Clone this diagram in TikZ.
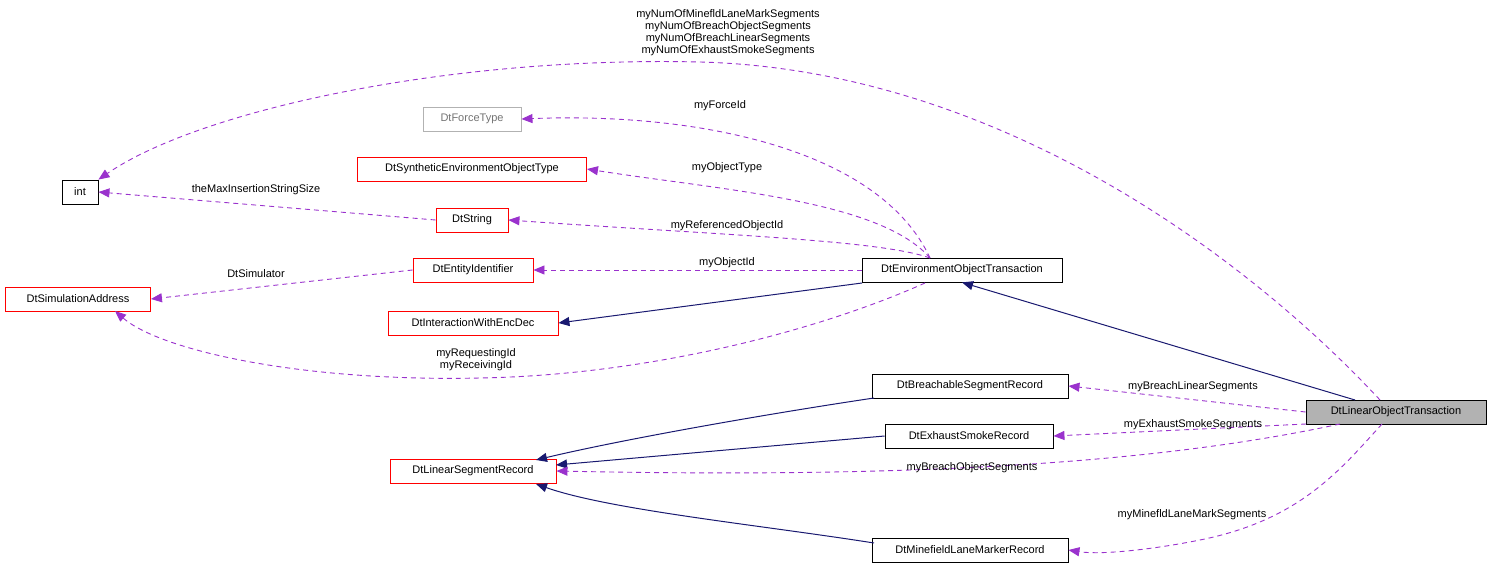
\documentclass[tikz,border=0pt]{standalone}
\usepackage{fontspec}
\setmainfont{Liberation Sans}
\usetikzlibrary{arrows.meta}
\definecolor{usescol}{RGB}{154, 50, 205}
\definecolor{inheritcol}{RGB}{25, 25, 112}
\tikzset{
  cls/.style={draw, rectangle, inner sep=0pt, line width=0.9pt, minimum height=24pt, font=\fontsize{11}{13}\selectfont},
  redcls/.style={cls, draw=red},
  graycls/.style={cls, draw=gray!60, text=gray!90!black},
  uses/.style={draw=usescol, line width=0.9pt, dash pattern=on 5pt off 4pt, -{Triangle[length=11pt,width=9pt]}},
  inherit/.style={draw=inheritcol, line width=1pt, -{Triangle[length=11pt,width=9pt]}},
  lbl/.style={font=\fontsize{11}{12}\selectfont, align=center, inner sep=1pt}
}
\begin{document}
\begin{tikzpicture}[x=1pt, y=-1pt]
  \useasboundingbox (0,0) rectangle (1491,569);

  \node[cls, minimum width=36pt] (int) at (80,192) {int};
  \node[graycls, minimum width=98pt] (force) at (472,119) {DtForceType};
  \node[redcls, minimum width=229pt] (synth) at (472,169) {DtSyntheticEnvironmentObjectType};
  \node[redcls, minimum width=72pt] (str) at (472,220) {DtString};
  \node[redcls, minimum width=120pt] (entity) at (473,270) {DtEntityIdentifier};
  \node[redcls, minimum width=145pt] (simaddr) at (78,299) {DtSimulationAddress};
  \node[redcls, minimum width=170pt] (interact) at (473,323) {DtInteractionWithEncDec};
  \node[cls, minimum width=200pt] (envobj) at (962,270) {DtEnvironmentObjectTransaction};
  \node[cls, minimum width=196pt] (breach) at (970,386) {DtBreachableSegmentRecord};
  \node[cls, minimum width=168pt] (exhaust) at (969,436) {DtExhaustSmokeRecord};
  \node[redcls, minimum width=166pt] (linseg) at (473,471) {DtLinearSegmentRecord};
  \node[cls, minimum width=196pt] (minefld) at (970,550) {DtMinefieldLaneMarkerRecord};
  \node[cls, fill=gray!60, minimum width=180pt] (linobj) at (1396,412) {DtLinearObjectTransaction};

  \coordinate (envtop) at (930,258);
  \coordinate (envbot) at (925,283);

  % inheritance
  \draw[inherit] (862,283) -- (interact.east);
  \draw[inherit] (1355,400) -- (envobj.south);
  \draw[inherit] (874,398) .. controls (760,415) and (620,440) .. (536,460);
  \draw[inherit] (exhaust.west) -- (556,465);
  \draw[inherit] (874,543) .. controls (760,525) and (610,510) .. (536,484);

  % usage from the environment transaction
  \draw[uses] (envtop) .. controls (880,150) and (700,112) .. (force.east);
  \draw[uses] (envtop) .. controls (880,200) and (720,190) .. (synth.east);
  \draw[uses] (envtop) .. controls (880,240) and (720,235) .. (str.east);
  \draw[uses] (envobj.west) -- (entity.east);
  \draw[uses] (envbot) .. controls (820,330) and (650,375) .. (480,378)
    .. controls (300,382) and (160,350) .. (115,311);
  \node[lbl] at (476,360) {myRequestingId\\myReceivingId};
  \node[lbl] at (720,106) {myForceId};
  \node[lbl] at (727,168) {myObjectType};
  \node[lbl] at (727,226) {myReferencedObjectId};
  \node[lbl] at (727,263) {myObjectId};

  % other usages
  \draw[uses] (str.west) -- (int.east);
  \node[lbl] at (256,190) {theMaxInsertionStringSize};
  \draw[uses] (entity.west) -- (simaddr.east);
  \node[lbl] at (256,274) {DtSimulator};

  \draw[uses] (1380,400) .. controls (1250,260) and (1000,70) .. (700,62)
    .. controls (450,56) and (200,110) .. (int.north east);
  \node[lbl] at (728,33) {myNumOfMinefldLaneMarkSegments\\myNumOfBreachObjectSegments\\myNumOfBreachLinearSegments\\myNumOfExhaustSmokeSegments};

  \draw[uses] (linobj.west) -- (breach.east);
  \node[lbl] at (1193,387) {myBreachLinearSegments};
  \draw[uses] (1306,424) -- (exhaust.east);
  \node[lbl] at (1193,425) {myExhaustSmokeSegments};
  \draw[uses] (1340,424) .. controls (1150,465) and (900,478) .. (linseg.east);
  \node[lbl] at (972,468) {myBreachObjectSegments};
  \draw[uses] (1382,424) .. controls (1340,470) and (1300,520) .. (1200,540)
    .. controls (1150,550) and (1100,555) .. (minefld.east);
  \node[lbl] at (1192,515) {myMinefldLaneMarkSegments};
\end{tikzpicture}
\end{document}
